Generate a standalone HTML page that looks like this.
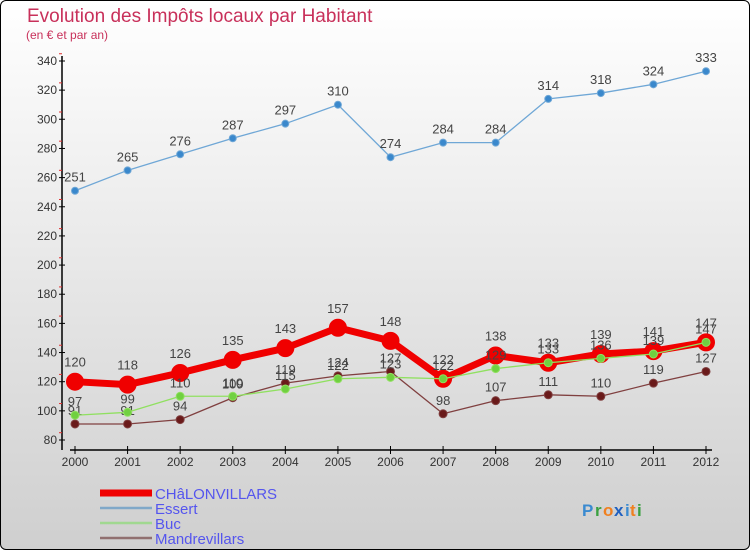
<!DOCTYPE html>
<html><head><meta charset="utf-8"><style>
body{margin:0;width:750px;height:550px;overflow:hidden;font-family:"Liberation Sans",sans-serif}
#wrap{position:absolute;left:0;top:0;width:748px;height:548px;border:1px solid #000;border-radius:6px;background:linear-gradient(#ffffff,#cfcfcf);overflow:hidden}
</style></head><body>
<div id="wrap">
<svg id="svg" width="750" height="550" style="position:absolute;left:-1px;top:-1px">
<text x="27" y="22" font-size="19" fill="#c8305a">Evolution des Impôts locaux par Habitant</text>
<text x="26" y="39" font-size="12" fill="#c8305a">(en € et par an)</text>
<g font-family="Liberation Sans, sans-serif" font-size="17" font-weight="bold">
<text x="582" y="516" fill="#3a8ad0">P</text>
<text x="595" y="516" fill="#3aa040">r</text>
<text x="603" y="516" fill="#f08020">o</text>
<text x="614" y="516" fill="#2060c0">x</text>
<text x="625" y="516" fill="#3a8ad0">i</text>
<text x="630" y="516" fill="#f08020">t</text>
<text x="637" y="516" fill="#3aa040">i</text>
</g>
</svg>
</div>
<script>
const years=[2000,2001,2002,2003,2004,2005,2006,2007,2008,2009,2010,2011,2012];
const chalon=[120,118,126,135,143,157,148,122,138,133,139,141,147];
const essert=[251,265,276,287,297,310,274,284,284,314,318,324,333];
const buc=[97,99,110,110,115,122,123,122,129,133,136,139,147];
const mandre=[91,91,94,109,119,124,127,98,107,111,110,119,127];
const yTicks=[80,100,120,140,160,180,200,220,240,260,280,300,320,340];
const seriesNames=['CHâLONVILLARS','Essert','Buc','Mandrevillars'];
const svg=document.getElementById('svg');const NS='http://www.w3.org/2000/svg';
const xS=i=>75+i*(706-75)/(years.length-1);
const yS=v=>440-(v-80)*(440-61)/(340-80);
function mk(t,a,p){const e=document.createElementNS(NS,t);for(const k in a)e.setAttribute(k,a[k]);(p||svg).appendChild(e);return e;}
let ax=mk('line',{x1:62,y1:56,x2:62,y2:450,stroke:'#000','stroke-width':1.5});


let xa=mk('line',{x1:70,y1:450,x2:712,y2:450,stroke:'#000','stroke-width':1.5});


yTicks.forEach(v=>{const y=yS(v);
 mk('line',{x1:59,y1:y,x2:65,y2:y,stroke:'#000'});
 mk('line',{x1:59,y1:y-7.3,x2:62,y2:y-7.3,stroke:'#e03030'});
 const t=mk('text',{x:57,y:y+4,'text-anchor':'end','font-size':12,fill:'#333'});t.textContent=v;
 
 
});
years.forEach((yr,i)=>{const x=xS(i);
 mk('line',{x1:x,y1:446,x2:x,y2:454,stroke:'#000'});
 const t=mk('text',{x:x,y:466,'text-anchor':'middle','font-size':12,fill:'#333'});t.textContent=yr;
 
 
});
function series(data,color,w,r,dot,name){
 const g=mk('g',{});
 
 
 mk('polyline',{points:data.map((v,i)=>xS(i)+','+yS(v)).join(' '),fill:'none',stroke:color,'stroke-width':w,'stroke-linejoin':'round'},g);
 data.forEach((v,i)=>{
  const c=mk('circle',{cx:xS(i),cy:yS(v),r:r,fill:dot,stroke:color,'stroke-width':r>5?2:1},g);
  
  
  const t=mk('text',{x:xS(i),y:yS(v)-(r>5?15:9),'text-anchor':'middle','font-size':13,fill:'#444'},g);t.textContent=v;
  
  
 });
}
series(essert,'#6fa7d6',1.3,3.5,'#3a88cc','essert-series');
series(mandre,'#804040',1.3,4,'#6a1a1a','mandrevillars-series');
series(chalon,'#f00000',7,8,'#f00000','chalonvillars-series');
series(buc,'#90e060',1.3,4,'#70d040','buc-series');
const lcol=['#f00000','#80a8c8','#a0d890','#907070'];const lw=[7,2.5,2.5,2.5];
seriesNames.forEach((n,i)=>{const y=493+i*15;
 const l=mk('line',{x1:100,y1:y,x2:152,y2:y,stroke:lcol[i],'stroke-width':lw[i]});
 
 
 const t=mk('text',{x:155,y:y+6,'font-size':15,fill:'#5555ee','textLength':i==0?122:null});
 if(i!=0)t.removeAttribute('textLength');
 t.textContent=n;
 
 
});
</script>
</body></html>
